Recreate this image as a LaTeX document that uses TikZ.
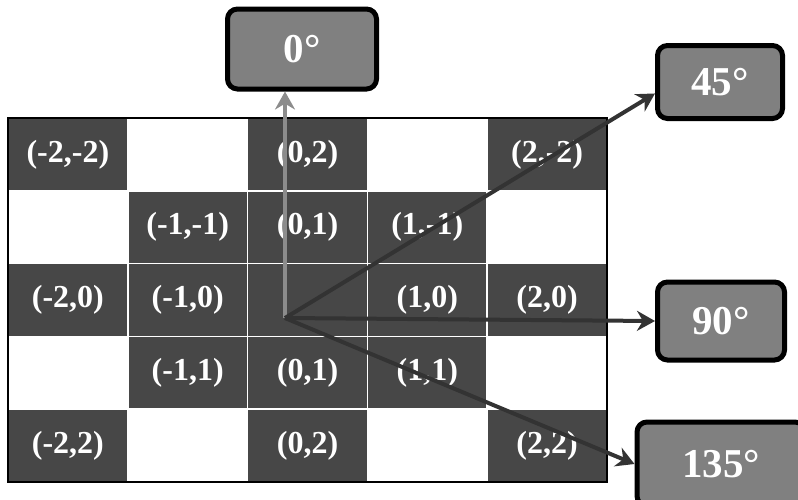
\documentclass[tikz,border=0pt]{standalone}
\usepackage{fontspec}
\setmainfont{Liberation Serif}
\usetikzlibrary{arrows.meta}

\begin{document}
\begin{tikzpicture}[x=1pt, y=-1pt,
    cell/.style={draw=white, line width=1.5pt, fill=black!72, text=white,
        minimum width=119.8pt, minimum height=72.8pt, inner sep=0pt,
        font=\fontsize{32}{36}\selectfont\bfseries},
    anglebox/.style={draw=black, line width=5pt, rounded corners=10pt,
        fill=black!50, text=white, inner sep=0pt,
        font=\fontsize{41}{45}\selectfont\bfseries},
    ray/.style={line width=4pt, draw=black!80, -{Stealth[length=18pt, width=20pt]}}]
    \useasboundingbox (0, 0) rectangle (798, 499);

    % dark cells of the grid
    \node[cell] at (67.9, 154.4) (m00) {(-2,-2)};
    \node[cell] at (307.5, 154.4) (m02) {(0,2)};
    \node[cell] at (547.1, 154.4) (m04) {(2,-2)};

    \node[cell] at (187.7, 227.2) (m11) {(-1,-1)};
    \node[cell] at (307.5, 227.2) (m12) {(0,1)};
    \node[cell] at (427.3, 227.2) (m13) {(1,-1)};

    \node[cell] at (67.9, 300) (m20) {(-2,0)};
    \node[cell] at (187.7, 300) (m21) {(-1,0)};
    \node[cell] at (307.5, 300) (m22) {};
    \node[cell] at (427.3, 300) (m23) {(1,0)};
    \node[cell] at (547.1, 300) (m24) {(2,0)};

    \node[cell] at (187.7, 372.8) (m31) {(-1,1)};
    \node[cell] at (307.5, 372.8) (m32) {(0,1)};
    \node[cell] at (427.3, 372.8) (m33) {(1,1)};

    \node[cell] at (67.9, 445.6) (m40) {(-2,2)};
    \node[cell] at (307.5, 445.6) (m42) {(0,2)};
    \node[cell] at (547.1, 445.6) (m44) {(2,2)};

    \draw[line width=2.5pt] (8, 118) rectangle (607, 482);

    % direction boxes
    \node[anglebox, minimum width=149pt, minimum height=80pt] at (302, 49) (deg0) {0\textdegree};
    \node[anglebox, minimum width=125pt, minimum height=73pt] at (720, 82) (deg45) {45\textdegree};
    \node[anglebox, minimum width=127pt, minimum height=78pt] at (721, 321) (deg90) {90\textdegree};
    \node[anglebox, minimum width=168pt, minimum height=84pt] at (721, 464) (deg135) {135\textdegree};

    \coordinate (o) at (285, 318);

    \draw[ray, draw=black!45] (o) -- (o |- deg0.south);
    \draw[ray] (o) -- (deg45.190);
    \draw[ray] (o) -- (deg90.west);
    \draw[ray] (o) -- (deg135.west);
\end{tikzpicture}
\end{document}
